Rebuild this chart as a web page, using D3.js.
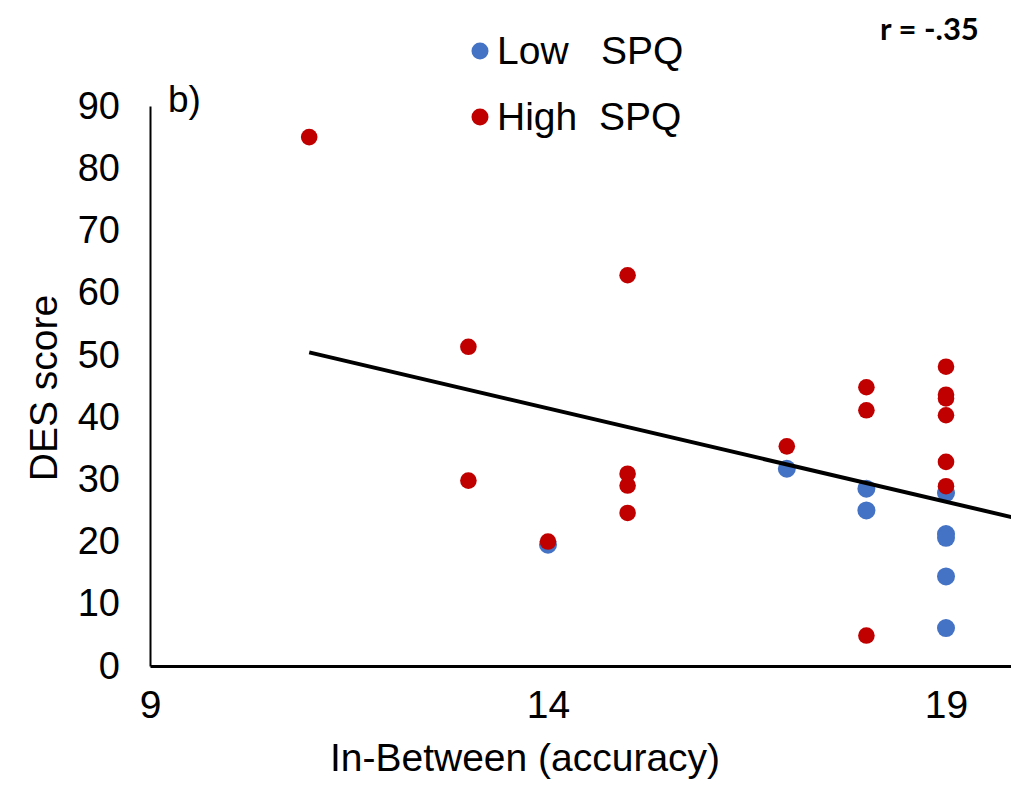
<!DOCTYPE html>
<html>
<head>
<meta charset="utf-8">
<script src="https://cdn.jsdelivr.net/npm/d3@7"></script>
<style>
  body { margin: 0; background: #fff; }
  text { font-family: "Liberation Sans", Arial, sans-serif; fill: #000; }
</style>
</head>
<body>
<div id="chart"></div>
<script>
const width = 1011;
const height = 795;

// Low SPQ group (blue)
const lowX = [14, 17, 18, 18, 19, 19, 19, 19, 19];
const lowY = [19.5, 31.7, 28.5, 25.0, 27.8, 21.2, 20.6, 14.4, 6.1];

// High SPQ group (red)
const highX = [11, 13, 13, 14, 15, 15, 15, 15, 17, 18, 18, 18, 19, 19, 19, 19, 19, 19];
const highY = [85.0, 51.3, 29.8, 20.0, 62.8, 30.9, 29.0, 24.6, 35.3, 44.8, 41.1, 4.9, 48.1, 43.6, 43.0, 40.3, 32.8, 28.9];

// linear trend line end points
const trendX = [11, 20];
const trendY = [50.4, 23.4];

const xTicks = [9, 14, 19];
const yTicks = [0, 10, 20, 30, 40, 50, 60, 70, 80, 90];

const legendLabels = ['Low   SPQ', 'High  SPQ'];
const colors = ['#4472C4', '#C00000'];

const svg = d3.select('#chart').append('svg')
  .attr('width', width)
  .attr('height', height);

const x = d3.scaleLinear().domain([9, 20]).range([150, 1025.6]);
const y = d3.scaleLinear().domain([0, 90]).range([666, 106]);

// y axis
const yAxis = svg.append('g')
  .attr('transform', 'translate(150,0)')
  .call(d3.axisLeft(y).tickValues(yTicks).tickSize(0).tickPadding(30));
yAxis.select('.domain').attr('stroke', '#000').attr('stroke-width', 2);
yAxis.selectAll('text')
  .attr('font-size', 38)
  .attr('font-family', '"Liberation Sans", Arial, sans-serif')
  .attr('fill', '#000');

// x axis
const xAxis = svg.append('g')
  .attr('transform', 'translate(0,666)')
  .call(d3.axisBottom(x).tickValues(xTicks).tickSize(0).tickPadding(24));
xAxis.select('.domain').attr('stroke', '#000').attr('stroke-width', 3);
xAxis.selectAll('text')
  .attr('font-size', 39)
  .attr('font-family', '"Liberation Sans", Arial, sans-serif')
  .attr('fill', '#000');

// points
const lowPts = lowX.map((v, i) => ({ x: v, y: lowY[i] }));
const highPts = highX.map((v, i) => ({ x: v, y: highY[i] }));

svg.append('g').selectAll('circle')
  .data(lowPts)
  .enter()
  .append('circle')
  .attr('cx', d => x(d.x))
  .attr('cy', d => y(d.y))
  .attr('r', 9)
  .attr('fill', colors[0]);

svg.append('g').selectAll('circle')
  .data(highPts)
  .enter()
  .append('circle')
  .attr('cx', d => x(d.x))
  .attr('cy', d => y(d.y))
  .attr('r', 8.3)
  .attr('fill', colors[1]);

// trend line
const line = d3.line().x(d => x(d[0])).y(d => y(d[1]));
svg.append('path')
  .datum(trendX.map((v, i) => [v, trendY[i]]))
  .attr('d', line)
  .attr('fill', 'none')
  .attr('stroke', '#000')
  .attr('stroke-width', 4);

// legend
const legend = svg.append('g');
legendLabels.forEach((lab, i) => {
  const cy = 51 + i * 66;
  legend.append('circle')
    .attr('cx', 480).attr('cy', cy).attr('r', 8.5)
    .attr('fill', colors[i]);
  legend.append('text')
    .attr('x', 497).attr('y', cy + 13)
    .attr('font-size', 39)
    .style('white-space', 'pre')
    .text(lab);
});

// panel label
svg.append('text')
  .attr('x', 168).attr('y', 112)
  .attr('font-size', 37)
  .text('b)');

// correlation
svg.append('text')
  .attr('x', 880).attr('y', 40)
  .attr('font-size', 31)
  .attr('font-weight', 'bold')
  .style('font-family', 'Lato, "Open Sans", sans-serif')
  .text('r = -.35');

// axis titles
svg.append('text')
  .attr('x', 525).attr('y', 771)
  .attr('text-anchor', 'middle')
  .attr('font-size', 39)
  .text('In-Between (accuracy)');

svg.append('text')
  .attr('transform', 'translate(57,388) rotate(-90)')
  .attr('text-anchor', 'middle')
  .attr('font-size', 39)
  .text('DES score');
</script>
</body>
</html>
